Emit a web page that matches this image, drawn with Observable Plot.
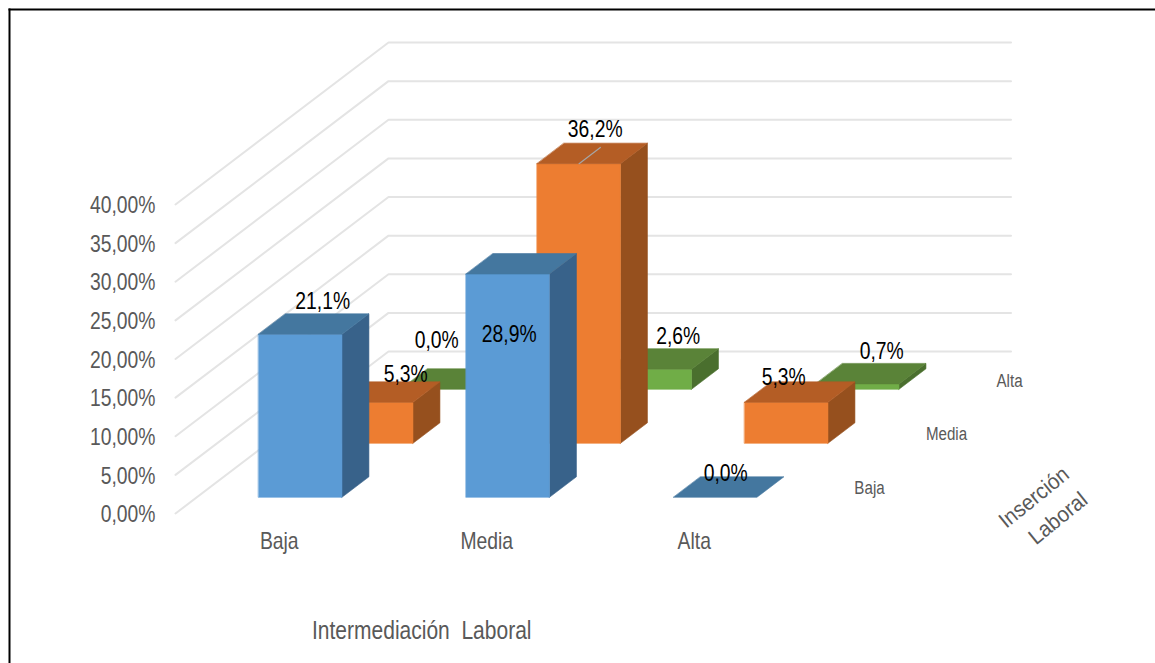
<!DOCTYPE html>
<html>
<head>
<meta charset="utf-8">
<script src="https://cdn.jsdelivr.net/npm/d3@7"></script>
<script src="https://cdn.jsdelivr.net/npm/@observablehq/plot@0.6"></script>
<style>
  html, body { margin: 0; padding: 0; background: #fff; }
  svg { display: block; }
</style>
</head>
<body>
<div id="chart"></div>
<script>
// Cross-tabulation of Intermediación Laboral (x) by Inserción Laboral (depth), in percent.
const categories = ["Baja", "Media", "Alta"];
const rows = ["Baja", "Media", "Alta"];
const rowBaja = [21.1, 28.9, 0.0];
const rowMedia = [5.3, 36.2, 5.3];
const rowAlta = [0.0, 2.6, 0.7];
const yTicks = [0, 5, 10, 15, 20, 25, 30, 35, 40];

const frontColors = ["#5B9BD5", "#ED7D31", "#70AD47"];
const topColors = ["#44779F", "#B45D25", "#5A8338"];
const sideColors = ["#38628A", "#96501E", "#4A6F2E"];

// Oblique projection: each step in depth shifts a point along both position scales.
const depthToX = 0.3422;
const depthToY = 6.99;
const project = (cat, depth, value) => ({x: cat + depth * depthToX, y: value + depth * depthToY});

const barStart = 0.2975, barWidth = 0.402, depthStart = 0.3, depthSize = 0.38;
const values = [rowBaja, rowMedia, rowAlta];

const face = (points, fill) =>
  Plot.line(points.map(([c, d, v]) => project(c, d, v)), {
    x: "x", y: "y", fill, stroke: fill, strokeWidth: 0.6, curve: "linear-closed"
  });

// Back rows first, and right to left within a row, so nearer bars overlap farther ones.
const barMarks = [];
for (let d = rows.length - 1; d >= 0; --d) {
  for (let c = categories.length - 1; c >= 0; --c) {
    const v = values[d][c];
    const c0 = c + barStart, c1 = c0 + barWidth;
    const d0 = d + depthStart, d1 = d0 + depthSize;
    if (v > 0) {
      barMarks.push(face([[c1, d0, 0], [c1, d1, 0], [c1, d1, v], [c1, d0, v]], sideColors[d]));
      barMarks.push(face([[c0, d0, 0], [c1, d0, 0], [c1, d0, v], [c0, d0, v]], frontColors[d]));
    }
    barMarks.push(face([[c0, d0, v], [c1, d0, v], [c1, d1, v], [c0, d1, v]], topColors[d]));
  }
}

// Floor-to-wall gridlines for every tick.
const gridMarks = yTicks.map((v) =>
  Plot.line([project(0, 0, v), project(0, 3, v), project(3, 3, v)], {
    x: "x", y: "y", stroke: "#e4e4e4", strokeWidth: 2
  })
);

const sans = "'Liberation Sans', sans-serif";
const percent = (v) => v.toFixed(1).replace(".", ",") + "%";

// Pixel nudges of each value label from the centre of its bar's top face.
const labelNudges = [
  [[8, -22], [-13, 71], [-4, -13]],
  [[20, -17], [2, -24], [-17, -14]],
  [[-20, -38], [14, -22], [10, -22]]
];

const valueLabels = values.flatMap((row, d) =>
  row.map((v, c) => {
    const p = project(c + 0.5, d + 0.5, v);
    return Plot.text([p], {
      x: "x", y: "y", text: () => percent(v),
      dx: labelNudges[d][c][0], dy: labelNudges[d][c][1],
      fontFamily: sans, fontSize: 24, fill: "#000"
    });
  })
);

const leader = Plot.line([project(1.5, 1.3, 36.2), project(1.5, 1.6, 36.2)], {
  x: "x", y: "y", stroke: "#a6a6a6", strokeWidth: 1.2
});

const categoryLabels = categories.map((name, c) =>
  Plot.text([project(c + 0.5, 0, 0)], {
    x: "x", y: "y", text: () => name, dy: 28,
    fontFamily: sans, fontSize: 24, fill: "#595959"
  })
);

const rowNudges = [[36, 2], [42, 2], [34, 3]];
const rowLabels = rows.map((name, d) =>
  Plot.text([project(3, d + 0.5, 0)], {
    x: "x", y: "y", text: () => name, dx: rowNudges[d][0], dy: rowNudges[d][1],
    fontFamily: sans, fontSize: 18, fill: "#595959"
  })
);

const axisTitle = (text, anchor, dx, dy, rotate, fontSize) =>
  Plot.text([anchor], {
    x: "x", y: "y", text: () => text, dx, dy, rotate, fontFamily: sans, fontSize, fill: "#595959"
  });

const chart = Plot.plot({
  width: 1155,
  height: 663,
  marginLeft: 9,
  marginTop: 9,
  marginRight: 0,
  marginBottom: 0,
  x: {domain: [0, 3], range: [175, 797.5], axis: null},
  y: {domain: [0, 40], range: [513, 204], axis: null},
  style: {background: "#fff"},
  marks: [
    ...gridMarks,
    ...barMarks,
    leader,
    Plot.axisY(yTicks, {
      x: 0, anchor: "left", tickSize: 0, tickPadding: 20, label: null, dy: 1,
      tickFormat: (v) => v.toFixed(2).replace(".", ",") + "%",
      fontFamily: sans, fontSize: 24, fill: "#595959"
    }),
    ...categoryLabels,
    ...rowLabels,
    ...valueLabels,
    axisTitle("Intermediación\u00a0\u00a0Laboral", project(1.5, 0, 0), -65, 117, 0, 25),
    axisTitle("Inserción", project(3, 0, 0), 236, -16, -39, 22),
    axisTitle("Laboral", project(3, 0, 0), 260, 5, -39, 22),
    Plot.frame({anchor: "top", stroke: "#000", strokeWidth: 2}),
    Plot.frame({anchor: "left", stroke: "#000", strokeWidth: 2})
  ]
});
document.getElementById("chart").append(chart);

// Labels are set in a horizontally condensed cut, tightest for the largest sizes.
const condense = {24: 0.805, 25: 0.84, 18: 0.84, 22: 0.93};
for (const t of chart.querySelectorAll("text")) {
  const size = +t.closest("[font-size]")?.getAttribute("font-size");
  const ratio = condense[size];
  if (!ratio) continue;
  t.setAttribute("lengthAdjust", "spacingAndGlyphs");
  t.setAttribute("textLength", (t.getComputedTextLength() * ratio).toFixed(1));
}
</script>
</body>
</html>
